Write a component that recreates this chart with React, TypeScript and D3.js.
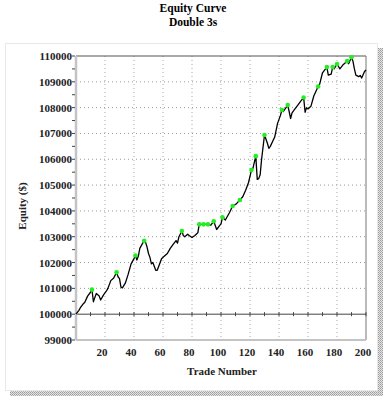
import React from "react";
import * as d3 from "d3";

const trades = [0,2,3,5,6,8,10,11,12,13,14,15,16,17,19,21,22,24,26,28,29,30,31,32,34,36,38,40,41,42,43,44,46,47,48,49,50,51,52,53,55,56,57,59,61,63,65,67,69,70,71,73,74,75,77,78,80,82,84,85,88,91,93,95,97,99,100,101,103,106,108,110,111,113,115,117,119,121,122,124,125,126,127,128,130,132,133,134,136,137,139,141,142,143,146,147,148,149,151,153,155,157,158,159,160,162,164,167,168,170,173,174,176,177,178,180,182,184,187,188,190,191,192,193,195,196,197,199,200];
const equity = [100000,100150,100250,100400,100450,100700,100850,100950,100480,100650,100800,100750,100700,100550,100750,100900,101000,101300,101400,101620,101450,101380,101050,101020,101200,101550,101950,102150,102270,102100,102250,102550,102750,102840,102780,102600,102350,102200,101950,102000,101700,101700,101850,102150,102250,102350,102550,102700,102850,102750,103000,103220,103050,103000,103100,103050,102970,103050,103150,103480,103480,103480,103450,103600,103280,103430,103500,103750,103650,103950,104190,104250,104300,104420,104550,104800,105100,105580,105650,106120,105220,105250,105400,106000,106940,106620,106420,106500,106740,106850,107390,107700,107910,107850,108100,107850,107580,107800,107950,108100,108250,108390,107820,108000,107950,108050,108450,108820,108900,109350,109570,109260,109300,109570,109500,109690,109500,109650,109800,109700,109950,109800,109500,109260,109200,109250,109150,109400,109460];
const highTrades = [11,28,41,47,73,85,88,91,95,101,108,113,121,124,130,142,146,157,167,173,177,180,187,190];
const highEquity = [100950,101620,102270,102840,103220,103480,103480,103480,103600,103750,104190,104420,105580,106120,106940,107910,108100,108390,108820,109570,109570,109690,109800,109950];
const yTicks = [99000,100000,101000,102000,103000,104000,105000,106000,107000,108000,109000,110000];
const xTicks = [20,40,60,80,100,120,140,160,180,200];

export default function App() {
  const W = 386, H = 400;
  const L = 76, R = 366, T = 56, B = 340;
  const x = d3.scaleLinear().domain([0, 200]).range([L, R]);
  const y = d3.scaleLinear().domain([99000, 110000]).range([B, T]);
  const pts = trades.map((t, i) => [t, equity[i]] as [number, number]);
  const line = d3.line<[number, number]>().x(d => x(d[0])).y(d => y(d[1]))(pts) || "";
  const minorY = d3.range(99000, 110001, 500);
  const minorX = d3.range(10, 201, 10);
  const font = "'Liberation Serif', 'Times New Roman', serif";
  return (
    <svg width={W} height={H} style={{ position: "absolute", left: 0, top: 0 }} fontFamily={font}>
      <defs>
        <pattern id="hatch" width="2" height="2" patternUnits="userSpaceOnUse">
          <rect width="2" height="2" fill="#e4e4e4" />
          <rect width="1" height="1" fill="#9a9a9a" />
          <rect x="1" y="1" width="1" height="1" fill="#b0b0b0" />
        </pattern>
      </defs>
      <rect x={0} y={0} width={W} height={H} fill="#fff" />
      <text x={193} y={12} textAnchor="middle" fontSize={11.5} fontWeight="bold">Equity Curve</text>
      <text x={193} y={26} textAnchor="middle" fontSize={11.5} fontWeight="bold">Double 3s</text>
      <rect x={378} y={48} width={5} height={348} fill="url(#hatch)" />
      <rect x={10} y={391} width={373} height={5} fill="url(#hatch)" />
      <rect x={5.5} y={43.5} width={372} height={347} fill="#fff" stroke="#e8e8e8" />
      {yTicks.filter(v => v !== 99000 && v !== 110000 && v !== 100000).map(v => (
        <line key={"gy" + v} x1={L} x2={R} y1={y(v)} y2={y(v)} stroke="#999" strokeWidth={1} strokeDasharray="1,3" />
      ))}
      {xTicks.filter(v => v !== 200).map(v => (
        <line key={"gx" + v} x1={x(v)} x2={x(v)} y1={T} y2={B} stroke="#aaa" strokeWidth={1} strokeDasharray="1,3" />
      ))}
      <line x1={L} x2={R} y1={T} y2={T} stroke="#555" strokeWidth={1.2} />
      <line x1={R} x2={R} y1={T} y2={B} stroke="#777" strokeWidth={1} />
      <line x1={L} x2={R} y1={y(100000)} y2={y(100000)} stroke="#444" strokeWidth={1} />
      {minorX.map(v => (
        <line key={"mx" + v} x1={x(v)} x2={x(v)} y1={y(100000) - 2} y2={y(100000) + 2} stroke="#444" strokeWidth={1} />
      ))}
      <line x1={L} x2={R} y1={B} y2={B} stroke="#c4c4c4" strokeWidth={2} />
      <line x1={L} x2={L} y1={T} y2={B} stroke="#c4c4c4" strokeWidth={2.5} />
      {minorY.map(v => (
        <line key={"my" + v} x1={L - 4} x2={L - 1} y1={y(v)} y2={y(v)} stroke="#444" strokeWidth={1} />
      ))}
      {yTicks.map(v => (
        <text key={"ty" + v} x={L - 4} y={y(v) + 4} textAnchor="end" fontSize={11} fontWeight="bold" fill="#222">{v}</text>
      ))}
      {xTicks.map(v => (
        <text key={"tx" + v} x={x(v) - 3} y={356} textAnchor="middle" fontSize={11} fontWeight="bold" fill="#222">{v}</text>
      ))}
      <text x={222} y={375} textAnchor="middle" fontSize={11} fontWeight="bold" fill="#222">Trade Number</text>
      <text transform="translate(26,206) rotate(-90)" textAnchor="middle" fontSize={11} fontWeight="bold" fill="#222">Equity ($)</text>
      <path d={line} fill="none" stroke="#000" strokeWidth={1.3} strokeLinejoin="round" />
      {highTrades.map((t, i) => (
        <circle key={"h" + i} cx={x(t)} cy={y(highEquity[i])} r={2.3} fill="#22ee22" />
      ))}
    </svg>
  );
}
